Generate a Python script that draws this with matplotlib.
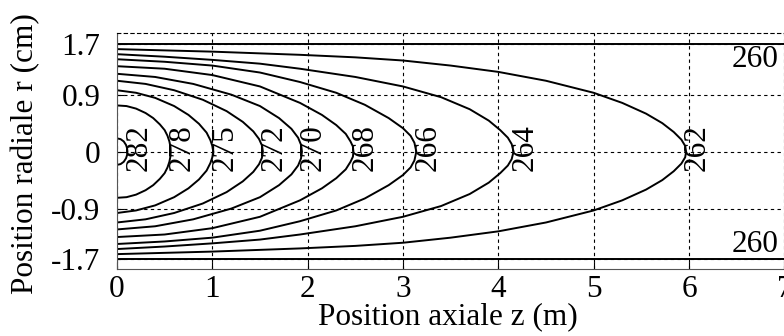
import numpy as np
import matplotlib.pyplot as plt

plt.rcParams['font.family'] = ['Liberation Serif', 'DejaVu Serif']
plt.rcParams['font.size'] = 22.5

# contour levels (K) and their upper-half shapes (z in m, r in cm)
levels = [282, 278, 275, 272, 270, 268, 266, 264, 262]
z_pts = {
    282: [0, 0.038, 0.071, 0.095, 0.106, 0.11],
    278: [0, 0.10, 0.20, 0.30, 0.38, 0.45, 0.50, 0.53, 0.55, 0.56, 0.563],
    275: [0, 0.20, 0.40, 0.60, 0.75, 0.86, 0.94, 0.98, 1.00, 1.01],
    272: [0, 0.30, 0.60, 0.90, 1.15, 1.32, 1.43, 1.49, 1.52, 1.53],
    270: [0, 0.40, 0.80, 1.20, 1.50, 1.70, 1.83, 1.90, 1.93, 1.94],
    268: [0, 0.50, 1.00, 1.50, 1.92, 2.15, 2.30, 2.40, 2.45, 2.475, 2.48],
    266: [0, 0.50, 1.00, 1.50, 1.92, 2.30, 2.60, 2.85, 3.00, 3.08, 3.12, 3.14],
    264: [0, 0.50, 1.00, 1.50, 1.92, 2.50, 3.00, 3.40, 3.70, 3.90, 4.02, 4.10, 4.14, 4.16],
    262: [0, 1.00, 1.92, 2.50, 3.00, 3.50, 4.00, 4.50, 5.00, 5.30, 5.55, 5.72, 5.84, 5.92,
          5.96, 5.97],
}
r_pts = {
    282: [0.21, 0.197, 0.161, 0.105, 0.054, 0],
    278: [0.73, 0.72, 0.68, 0.61, 0.53, 0.43, 0.34, 0.25, 0.16, 0.08, 0],
    275: [0.97, 0.93, 0.85, 0.72, 0.58, 0.44, 0.30, 0.18, 0.09, 0],
    272: [1.12, 1.07, 0.97, 0.82, 0.64, 0.47, 0.32, 0.20, 0.10, 0],
    270: [1.23, 1.18, 1.07, 0.90, 0.72, 0.53, 0.36, 0.22, 0.11, 0],
    268: [1.35, 1.31, 1.21, 1.03, 0.77, 0.58, 0.42, 0.28, 0.16, 0.08, 0],
    266: [1.46, 1.42, 1.36, 1.25, 1.10, 0.93, 0.74, 0.53, 0.37, 0.25, 0.14, 0],
    264: [1.54, 1.50, 1.45, 1.39, 1.31, 1.18, 1.03, 0.86, 0.67, 0.49, 0.34, 0.22, 0.12, 0],
    262: [1.62, 1.58, 1.53, 1.49, 1.44, 1.36, 1.26, 1.12, 0.93, 0.77, 0.60, 0.45, 0.31, 0.19,
          0.09, 0],
}
wall_level = 260
wall_r = 1.7
wall_z = [0, 7]

xticks = [0, 1, 2, 3, 4, 5, 6, 7]
yticks = [-1.7, -0.9, 0, 0.9, 1.7]
ytick_labels = ['-1.7', '-0.9', '0', '0.9', '1.7']

fig = plt.figure(figsize=(7.84, 3.36), dpi=100)
ax = fig.add_axes([0.1492, 0.1985, 0.8512, 0.7024])

for lv in levels:
    z = np.array(z_pts[lv])
    r = np.array(r_pts[lv])
    zz = np.concatenate([z, z[::-1][1:]])
    rr = np.concatenate([r, -r[::-1][1:]])
    ax.plot(zz, rr, color='black', lw=1.4)
    ax.text(z[-1] + 0.12, 0.07, str(lv), rotation=90, ha='center', va='center')

ax.plot(wall_z, [wall_r, wall_r], color='black', lw=1.4)
ax.plot(wall_z, [-wall_r, -wall_r], color='black', lw=1.4)
ax.text(6.69, 1.34, str(wall_level), ha='center', va='baseline')
ax.text(6.69, -1.59, str(wall_level), ha='center', va='baseline')

ax.set_xlim(0, 7)
ax.set_ylim(-1.86, 1.87)
ax.set_xticks(xticks)
ax.set_yticks(yticks)
ax.set_yticklabels(ytick_labels)
ax.grid(True, color='black', lw=0.8, ls=(0, (3, 3)))
ax.tick_params(direction='in', length=5, width=0.8, pad=4)
ax.tick_params(axis='y', pad=12)

for side in ['left', 'bottom']:
    ax.spines[side].set_linewidth(0.8)
    ax.spines[side].set_color('#555555')
ax.spines['top'].set_linestyle((0, (3, 3)))
ax.spines['top'].set_linewidth(0.8)
ax.spines['right'].set_visible(False)

ax.set_xlabel('Position axiale z (m)')
ax.set_ylabel('Position radiale r (cm)')
ax.xaxis.set_label_coords(0.496, -0.138)
ax.yaxis.set_label_coords(-0.1154, 0.4886)

fig.savefig('out.png', dpi=100)
